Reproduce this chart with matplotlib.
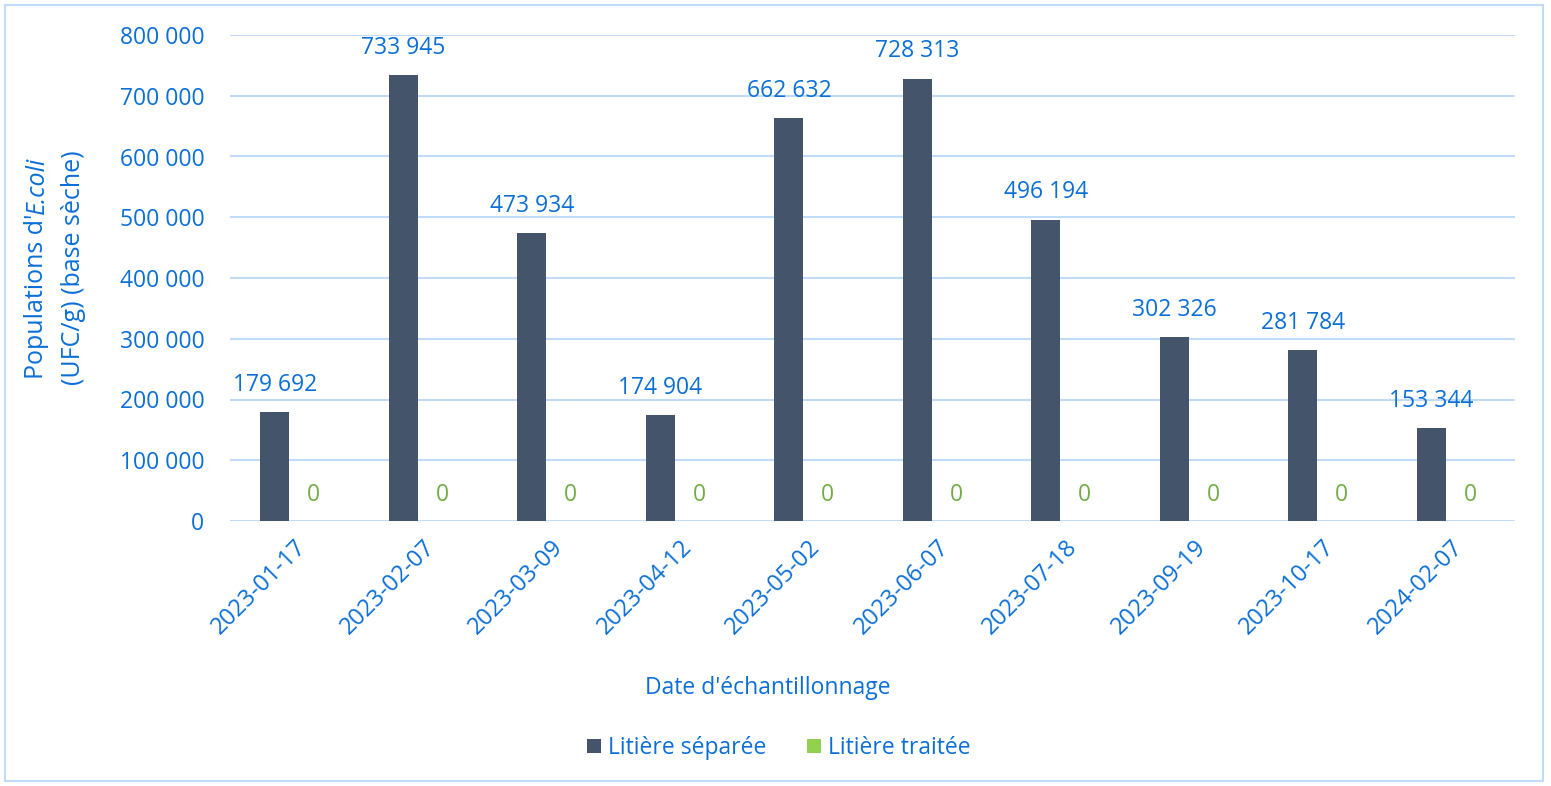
import matplotlib
matplotlib.use("Agg")
import matplotlib.pyplot as plt
import numpy as np
from matplotlib.patches import Rectangle

# donnees
dates = ["2023-01-17", "2023-02-07", "2023-03-09", "2023-04-12", "2023-05-02",
         "2023-06-07", "2023-07-18", "2023-09-19", "2023-10-17", "2024-02-07"]
separee = [179692, 733945, 473934, 174904, 662632, 728313, 496194, 302326, 281784, 153344]
traitee = [0, 0, 0, 0, 0, 0, 0, 0, 0, 0]
yticks = [0, 100000, 200000, 300000, 400000, 500000, 600000, 700000, 800000]

bleu = "#0B6FD6"
grille = "#C0DCFA"
fs = 16.5
plt.rcParams["font.family"] = ["Open Sans", "DejaVu Sans"]


def fmt(v):
    return f"{v:,}".replace(",", " ")


fig = plt.figure(figsize=(15.51, 7.86), dpi=100)
ax = fig.add_axes([230 / 1551, 1 - 521 / 786, 1285 / 1551, 486 / 786])

x = np.arange(len(dates))
w = 0.226
b1 = ax.bar(x - 0.15, separee, w, color="#44546A", label="Litière séparée", zorder=3)
b2 = ax.bar(x + 0.15, traitee, w, color="#92D050", label="Litière traitée", zorder=3)

# etiquettes de valeurs
for rect, v in zip(b1, separee):
    ax.annotate(fmt(v), (rect.get_x() + rect.get_width() / 2, v), xytext=(0, 19.5),
                textcoords="offset points", ha="center", va="center", color=bleu, fontsize=fs)
for rect, v in zip(b2, traitee):
    ax.annotate(fmt(v), (rect.get_x() + rect.get_width() / 2, v), xytext=(0, 19),
                textcoords="offset points", ha="center", va="center", color="#70AD47", fontsize=fs)

ax.set_xlim(-0.5, len(dates) - 0.5)
ax.set_ylim(0, 800000)
ax.set_yticks(yticks)
ax.set_yticklabels([fmt(v) for v in yticks], color=bleu, fontsize=fs)
ax.set_xticks(x)
ax.set_xticklabels(dates, rotation=45, ha="right", rotation_mode="anchor", color=bleu, fontsize=17)
ax.tick_params(length=0, pad=10)
ax.tick_params(axis="y", pad=18.5)
ax.grid(axis="y", color=grille, linewidth=1.5, zorder=0)
for s in ax.spines.values():
    s.set_visible(False)

# titre de l'axe y en deux lignes, E.coli en italique
r = fig.canvas.get_renderer()
y0 = 1 - 379 / 786
t1 = fig.text(37 / 1551, y0, "Populations d'", rotation=90, ha="center", va="bottom",
              color=bleu, fontsize=18)
h = t1.get_window_extent(renderer=r).height / fig.bbox.height
fig.text(37 / 1551, y0 + h, "E.coli", rotation=90, ha="center", va="bottom",
         color=bleu, fontsize=18, style="italic")
fig.text(73 / 1551, 1 - 268 / 786, "(UFC/g) (base sèche)", rotation=90,
         ha="center", va="center", color=bleu, fontsize=18)

fig.text(768 / 1551, 1 - 688 / 786, "Date d'échantillonnage", ha="center", va="center",
         color=bleu, fontsize=fs)

fig.legend(loc="center", bbox_to_anchor=(779 / 1551, 1 - 748 / 786), ncol=2, frameon=False,
           fontsize=fs, labelcolor=bleu, handlelength=0.6, handleheight=0.6,
           handletextpad=0.3, columnspacing=1.8)

fig.patches.append(Rectangle((5 / 1551, 5 / 786), 1538 / 1551, 776 / 786, transform=fig.transFigure,
                             fill=False, edgecolor=grille, linewidth=1.5))

fig.savefig("out.png", dpi=100)
